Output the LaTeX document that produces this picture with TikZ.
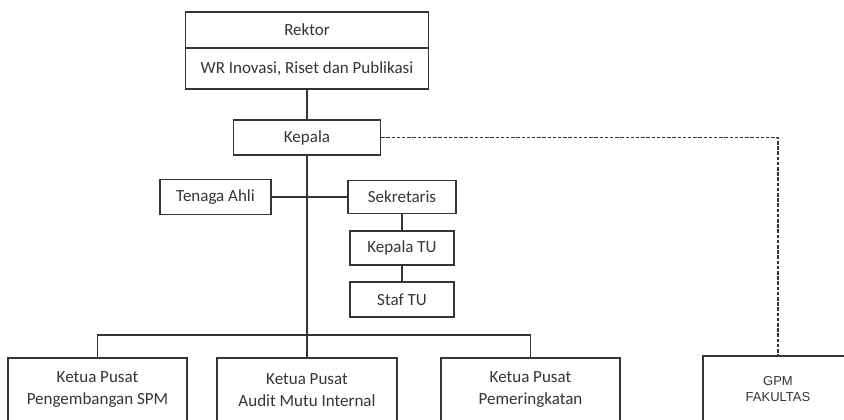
\documentclass[tikz,border=0pt]{standalone}
\usepackage{fontspec}
\setmainfont{Carlito}
\newfontfamily\gpmfont{Liberation Sans}
\begin{document}
\definecolor{ink}{HTML}{353535}
\begin{tikzpicture}[x=0.75pt,y=-0.75pt,
  line width=1pt,
  every node/.style={text=ink},
  unit/.style={draw=ink, rectangle, inner sep=0pt, align=center,
    font=\fontsize{12.75pt}{16.5pt}\selectfont},
  link/.style={draw=ink, line width=1pt},
  dotlink/.style={draw=ink, line width=1pt, dash pattern=on 2.6pt off 1.3pt}]
\clip (0,0) rectangle (844,420);
\fill[white] (0,0) rectangle (844,420);

% top: rector and vice-rector
\node[unit, minimum width=243*0.75pt, minimum height=36*0.75pt] (rektor) at (307,30) {Rektor};
\node[unit, minimum width=243*0.75pt, minimum height=41*0.75pt] (wr) at (307,68.5) {WR Inovasi, Riset dan Publikasi};

% head and staff
\node[unit, minimum width=147*0.75pt, minimum height=35*0.75pt] (kepala) at (307,137.5) {Kepala};
\node[unit, minimum width=111*0.75pt, minimum height=35*0.75pt] (ahli) at (215.5,197) {Tenaga Ahli};
\node[unit, minimum width=108*0.75pt, minimum height=33*0.75pt] (sekr) at (402,197) {Sekretaris};
\node[unit, minimum width=104*0.75pt, minimum height=34*0.75pt] (katu) at (402,248) {Kepala TU};
\node[unit, minimum width=104*0.75pt, minimum height=35*0.75pt] (staf) at (402,299.5) {Staf TU};

% centres
\node[unit, minimum width=179*0.75pt, minimum height=64*0.75pt] (spm) at (97.5,390) {Ketua Pusat\\Pengembangan SPM};
\node[unit, minimum width=180*0.75pt, minimum height=64*0.75pt] (ami) at (307,390) {Ketua Pusat\\Audit Mutu Internal};
\node[unit, minimum width=179*0.75pt, minimum height=64*0.75pt] (rank) at (530.5,390) {Ketua Pusat\\Pemeringkatan};
\node[unit, minimum width=150*0.75pt, minimum height=66*0.75pt,
  font=\gpmfont\fontsize{9.75pt}{12pt}\selectfont] (gpm) at (778,389) {GPM\\FAKULTAS};

\coordinate (bus) at (307,335);

% connectors
\draw[link] (wr.south) -- (kepala.north);
\draw[link] (kepala.south) -- (bus) -- (ami.north);
\draw[link] (ahli.east) -- (sekr.west);
\draw[link] (sekr.south) -- (katu.north);
\draw[link] (katu.south) -- (staf.north);
\draw[link] (spm.north) |- (bus) -| (rank.north);
\draw[dotlink] (kepala.east) -| (gpm.north);
\end{tikzpicture}
\end{document}
